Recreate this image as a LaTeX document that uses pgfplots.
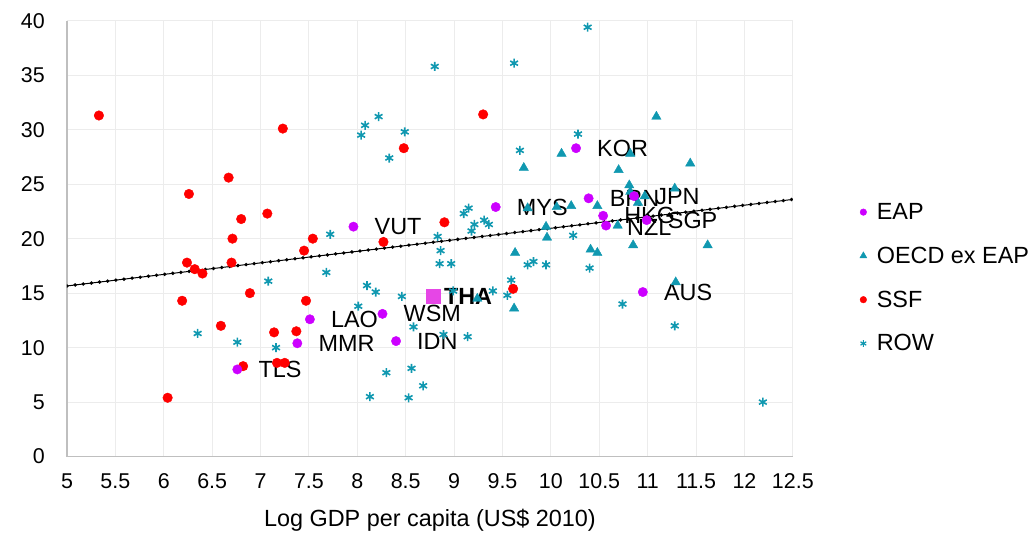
\documentclass[border=0pt]{standalone}
\usepackage{pgfplots}
\pgfplotsset{compat=1.18}
\usepackage{fontspec}
\setmainfont{Liberation Sans}
\definecolor{eap}{RGB}{204,0,255}
\definecolor{tha}{RGB}{230,70,230}
\definecolor{oecd}{RGB}{16,152,176}
\definecolor{rowc}{RGB}{16,152,176}
\definecolor{ssf}{RGB}{255,0,0}
\definecolor{gridc}{RGB}{236,236,236}
\definecolor{axc}{RGB}{191,191,191}
\newcommand{\lblfont}{\fontsize{23.5}{27}\selectfont}
\newcommand{\tckfont}{\fontsize{21.5}{24}\selectfont}
\begin{document}
\begin{tikzpicture}
\begin{axis}[
  scale only axis, width=726bp, height=436bp,
  xmin=5, xmax=12.5, ymin=0, ymax=40,
  xtick={5,5.5,6,6.5,7,7.5,8,8.5,9,9.5,10,10.5,11,11.5,12,12.5},
  xticklabels={5,5.5,6,6.5,7,7.5,8,8.5,9,9.5,10,10.5,11,11.5,12,12.5},
  ytick={0,5,10,15,20,25,30,35,40},
  yticklabels={0,5,10,15,20,25,30,35,40},
  axis x line*=bottom, axis y line*=left,
  axis line style={axc, line width=1.5bp, -},
  major tick length=0pt,
  grid=major, grid style={gridc, line width=1bp},
  tick label style={font=\tckfont, inner sep=0pt},
  xticklabel style={anchor=north, yshift=-17bp},
  yticklabel style={anchor=east, xshift=-22bp},
  xlabel={Log GDP per capita (US\$ 2010)},
  xlabel style={font=\lblfont, at={(axis description cs:0.5,0)}, anchor=north, yshift=-52bp, inner sep=0pt},
  legend style={at={(rel axis cs:1.088,0.41)}, anchor=west, draw=none, fill=none,
    font=\lblfont, row sep=26bp, column sep=10bp, nodes={inner sep=0pt}},
  legend cell align=left,
  legend image code/.code={\draw[#1] plot coordinates {(0bp,0bp)};},
]
% legend images
\addlegendimage{only marks, mark=*, mark size=3.3bp, mark options={draw=eap, fill=eap}}
\addlegendentry{EAP}
\addlegendimage{only marks, mark=triangle*, mark size=4bp, mark options={draw=oecd, fill=oecd}}
\addlegendentry{OECD ex EAP}
\addlegendimage{only marks, mark=*, mark size=3.3bp, mark options={draw=ssf, fill=ssf}}
\addlegendentry{SSF}
\addlegendimage{only marks, mark=asterisk, mark size=3.3bp, mark options={draw=rowc, line width=1.2bp}}
\addlegendentry{ROW}

% trend line
\addplot[black, line width=1bp, forget plot] coordinates {(5,15.66) (12.5,23.6)};
\addplot[black, line width=3.8bp, line cap=round, dash pattern=on 0bp off 8.2bp, forget plot] coordinates {(5,15.66) (12.5,23.6)};

% ROW
\addplot[only marks, mark=asterisk, mark size=4.5bp, mark options={draw=rowc, line width=1.6bp}, forget plot] coordinates {
(8.80,35.8) (9.62,36.1) (8.22,31.2) (8.08,30.4) (8.04,29.5) (8.49,29.8) (8.33,27.4) (9.68,28.1)
(10.38,39.4) (10.28,29.6) (9.15,22.8) (9.10,22.3) (9.21,21.3) (9.18,20.7) (9.31,21.7) (9.36,21.3)
(7.72,20.4) (8.83,20.2) (8.86,18.9) (7.68,16.9) (8.85,17.7) (8.97,17.7) (9.76,17.6) (9.82,17.9)
(9.95,17.6) (9.59,16.2) (8.10,15.7) (8.19,15.1) (8.46,14.7) (8.99,15.2) (9.40,15.2) (9.55,14.8)
(8.01,13.8) (8.58,11.9) (8.89,11.2) (9.14,11.0) (8.30,7.7) (8.56,8.1) (8.68,6.5) (8.13,5.5)
(8.53,5.4) (7.08,16.1) (6.35,11.3) (6.76,10.5) (7.16,10.0) (10.23,20.3) (10.40,17.3) (10.74,14.0)
(11.28,12.0) (12.19,5.0)
};

% OECD ex EAP
\addplot[only marks, mark=triangle*, mark size=5.4bp, mark options={draw=oecd, fill=oecd}, forget plot] coordinates {
(9.72,26.5) (10.11,27.8) (9.76,22.8) (10.06,22.9) (10.21,23.0) (9.95,21.1) (9.96,20.1) (9.63,18.7)
(9.24,14.5) (9.62,13.6) (11.09,31.2) (10.82,27.8) (10.70,26.3) (11.44,26.9) (10.81,24.9) (10.82,24.3)
(10.48,23.0) (10.97,23.9) (11.28,24.6) (10.90,23.3) (10.69,21.2) (10.41,19.0) (10.48,18.7)
(10.85,19.4) (11.62,19.4) (11.29,16.0)
};

% SSF
\addplot[only marks, mark=*, mark size=4.8bp, mark options={draw=ssf, fill=ssf}, forget plot] coordinates {
(5.33,31.3) (7.23,30.1) (6.67,25.6) (6.26,24.1) (7.07,22.3) (6.80,21.8) (6.71,20.0) (7.54,20.0)
(7.45,18.9) (6.24,17.8) (6.32,17.2) (6.40,16.8) (6.70,17.8) (6.89,15.0) (6.19,14.3) (7.47,14.3)
(6.59,12.0) (7.14,11.4) (7.37,11.5) (7.17,8.6) (7.25,8.6) (6.82,8.3) (6.04,5.4) (9.30,31.4)
(8.48,28.3) (8.90,21.5) (8.27,19.7) (9.61,15.4)
};

% EAP
\addplot[only marks, mark=*, mark size=4.7bp, mark options={draw=eap, fill=eap}, forget plot] coordinates {
(7.51,12.6) (7.38,10.4) (6.76,8.0) (7.96,21.1) (8.26,13.1) (8.40,10.6) (9.43,22.9) (10.26,28.3)
(10.39,23.7) (10.86,23.9) (10.54,22.1) (10.57,21.2) (10.99,21.7) (10.95,15.1)
};

% THA
\addplot[only marks, mark=square*, mark size=7bp, mark options={draw=tha, fill=tha}, forget plot] coordinates {(8.78,14.7)};

% data labels
\begin{scope}[every node/.style={anchor=west, inner sep=0pt, xshift=21bp, font=\lblfont}]
\node at (axis cs:7.51,12.6) {LAO};
\node at (axis cs:7.38,10.4) {MMR};
\node at (axis cs:6.76,8.0) {TLS};
\node at (axis cs:7.96,21.1) {VUT};
\node at (axis cs:8.26,13.1) {WSM};
\node at (axis cs:8.40,10.6) {IDN};
\node at (axis cs:9.43,22.9) {MYS};
\node at (axis cs:10.26,28.3) {KOR};
\node at (axis cs:10.39,23.7) {BRN};
\node at (axis cs:10.86,23.9) {JPN};
\node at (axis cs:10.54,22.1) {HKG};
\node at (axis cs:10.57,21.0) {NZL};
\node at (axis cs:10.99,21.7) {SGP};
\node at (axis cs:10.95,15.1) {AUS};
\node[xshift=-10bp] at (axis cs:8.78,14.7) {\bfseries THA};
\end{scope}
\end{axis}
\path (current axis.south west) ++(-67bp,-76.3bp) rectangle ++(1032bp,533bp);
\end{tikzpicture}
\end{document}
